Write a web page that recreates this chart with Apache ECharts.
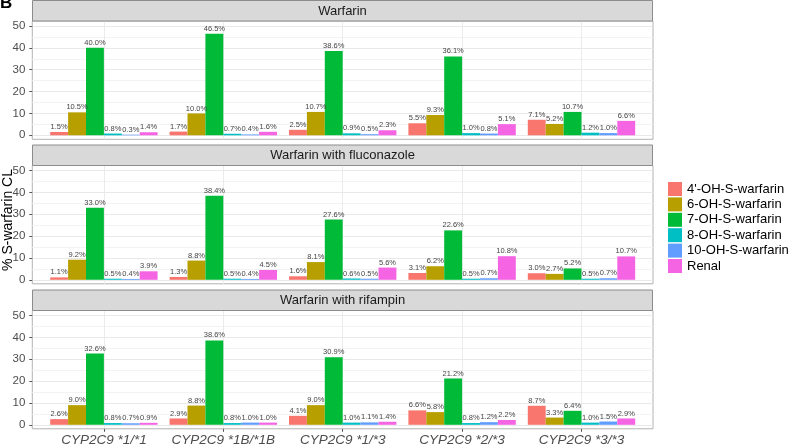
<!DOCTYPE html>
<html><head><meta charset="utf-8">
<script src="https://cdn.jsdelivr.net/npm/echarts@6/dist/echarts.min.js"></script>
<style>html,body{margin:0;padding:0;background:#fff}#c{width:795px;height:448px}</style>
</head><body><div id="c"></div>
<script>
const categories = ['CYP2C9 *1/*1', 'CYP2C9 *1B/*1B', 'CYP2C9 *1/*3', 'CYP2C9 *2/*3', 'CYP2C9 *3/*3'];
const metabolites = ["4'-OH-S-warfarin", '6-OH-S-warfarin', '7-OH-S-warfarin', '8-OH-S-warfarin', '10-OH-S-warfarin', 'Renal'];
const panelTitles = ['Warfarin', 'Warfarin with fluconazole', 'Warfarin with rifampin'];
// rows follow metabolites order, columns follow categories order
const warfarinAlone = [
  [1.5, 1.7, 2.5, 5.5, 7.1],
  [10.5, 10.0, 10.7, 9.3, 5.2],
  [40.0, 46.5, 38.6, 36.1, 10.7],
  [0.8, 0.7, 0.9, 1.0, 1.2],
  [0.3, 0.4, 0.5, 0.8, 1.0],
  [1.4, 1.6, 2.3, 5.1, 6.6]
];
const withFluconazole = [
  [1.1, 1.3, 1.6, 3.1, 3.0],
  [9.2, 8.8, 8.1, 6.2, 2.7],
  [33.0, 38.4, 27.6, 22.6, 5.2],
  [0.5, 0.5, 0.6, 0.5, 0.5],
  [0.4, 0.4, 0.5, 0.7, 0.7],
  [3.9, 4.5, 5.6, 10.8, 10.7]
];
const withRifampin = [
  [2.6, 2.9, 4.1, 6.6, 8.7],
  [9.0, 8.8, 9.0, 5.8, 3.3],
  [32.6, 38.6, 30.9, 21.2, 6.4],
  [0.8, 0.8, 1.0, 0.8, 1.0],
  [0.7, 1.0, 1.1, 1.2, 1.5],
  [0.9, 1.0, 1.4, 2.2, 2.9]
];
const yAxisTitle = '% S-warfarin CL';

const colors = ['#F8766D', '#B79F00', '#00BA38', '#00BFC4', '#619CFF', '#F564E3'];
const FONT = '"Liberation Sans", Arial, sans-serif';
const panelData = [warfarinAlone, withFluconazole, withRifampin];

const stripTops = [0.5, 145, 290];
const stripH = 20.5;
const plotH = 118.3;
const frameLeft = 32.3, frameRight = 795 - 653;
const topPad = 5, tickSpan = 109.3;

const grids = [], xAxes = [], yAxes = [], series = [], graphics = [];

panelData.forEach((vals, p) => {
  const plotTop = stripTops[p] + stripH;
  const last = p === panelData.length - 1;
  // frame grid
  let gi = grids.length;
  grids.push({left: frameLeft, right: frameRight, top: plotTop, height: plotH, show: true,
    borderColor: '#b3b3b3', borderWidth: 1, backgroundColor: 'transparent'});
  xAxes.push({gridIndex: gi, type: 'value', show: false, min: 0, max: 1});
  yAxes.push({gridIndex: gi, type: 'value', show: false, min: 0, max: 1});
  // horizontal gridlines + y labels
  gi = grids.length;
  grids.push({left: frameLeft, right: frameRight, top: plotTop + topPad, height: tickSpan});
  xAxes.push({gridIndex: gi, type: 'value', show: false, min: 0, max: 1});
  yAxes.push({gridIndex: gi, type: 'value', min: 0, max: 50, interval: 5, position: 'left',
    axisLine: {show: false}, axisTick: {show: false}, axisLabel: {show: false},
    splitLine: {show: true, lineStyle: {color: '#f3f3f3', width: 1}}});
  yAxes.push({gridIndex: gi, type: 'value', min: 0, max: 50, interval: 10, position: 'left',
    axisLine: {show: false},
    axisTick: {show: true, length: 3, lineStyle: {color: '#555'}},
    axisLabel: {fontSize: 11.5, color: '#4d4d4d', margin: 7, fontFamily: FONT},
    splitLine: {show: true, lineStyle: {color: '#e9e9e9', width: 1}}});
  // vertical gridlines + x labels
  gi = grids.length;
  grids.push({left: 103.9, width: 477.6, top: plotTop, height: plotH});
  xAxes.push({gridIndex: gi, type: 'value', min: 0, max: categories.length - 1, interval: 1,
    axisLine: {show: false},
    axisTick: {show: last, length: 3, lineStyle: {color: '#555'}},
    axisLabel: {show: last, formatter: v => categories[v] || '', fontSize: 13.5, fontStyle: 'italic',
      color: '#4d4d4d', margin: 4, fontFamily: FONT},
    splitLine: {show: true, lineStyle: {color: '#ebebeb', width: 1}}});
  yAxes.push({gridIndex: gi, type: 'value', show: false, min: 0, max: 1});
  // data grid
  gi = grids.length;
  grids.push({left: 44.2, width: 597, top: plotTop + topPad, height: tickSpan});
  const xi = xAxes.length, yi = yAxes.length;
  xAxes.push({gridIndex: gi, type: 'category', data: categories, show: false});
  yAxes.push({gridIndex: gi, type: 'value', min: 0, max: 50, show: false});
  metabolites.forEach((m, k) => {
    series.push({
      type: 'bar', name: m, xAxisIndex: xi, yAxisIndex: yi,
      data: vals[k], barWidth: 17.9, barGap: '0%',
      itemStyle: {color: colors[k]},
      label: {show: true, position: 'top', distance: 1, fontSize: 7.5, color: '#444',
        fontFamily: FONT, formatter: d => d.value.toFixed(1) + '%'}
    });
  });
  // strip
  graphics.push({type: 'rect', z: 10,
    shape: {x: 32.5, y: stripTops[p], width: 620, height: stripH},
    style: {fill: '#d9d9d9', stroke: '#8c8c8c', lineWidth: 1}});
  graphics.push({type: 'text', z: 11, x: 342.5, y: stripTops[p] + stripH / 2 + 0.5,
    style: {text: panelTitles[p], fontSize: 13, fill: '#1a1a1a', fontFamily: FONT,
      align: 'center', verticalAlign: 'middle'}});
});

graphics.push({type: 'text', z: 11, x: 8.5, y: 220, rotation: Math.PI / 2,
  style: {text: yAxisTitle, fontSize: 14, fill: '#000', fontFamily: FONT,
    align: 'center', verticalAlign: 'middle'}});
graphics.push({type: 'text', z: 11, x: 0, y: -5,
  style: {text: 'B', fontSize: 17, fontWeight: 'bold', fill: '#000', fontFamily: FONT,
    align: 'left', verticalAlign: 'top'}});

const chart = echarts.init(document.getElementById('c'), null, {renderer: 'canvas'});
chart.setOption({
  animation: false,
  backgroundColor: '#fff',
  grid: grids, xAxis: xAxes, yAxis: yAxes, series: series,
  legend: {orient: 'vertical', left: 668, top: 182, itemWidth: 14, itemHeight: 14, itemGap: 1.4,
    padding: 0, icon: 'rect', selectedMode: false, data: metabolites,
    textStyle: {fontSize: 13, color: '#000', fontFamily: FONT, lineHeight: 14}},
  graphic: graphics
});
</script></body></html>
